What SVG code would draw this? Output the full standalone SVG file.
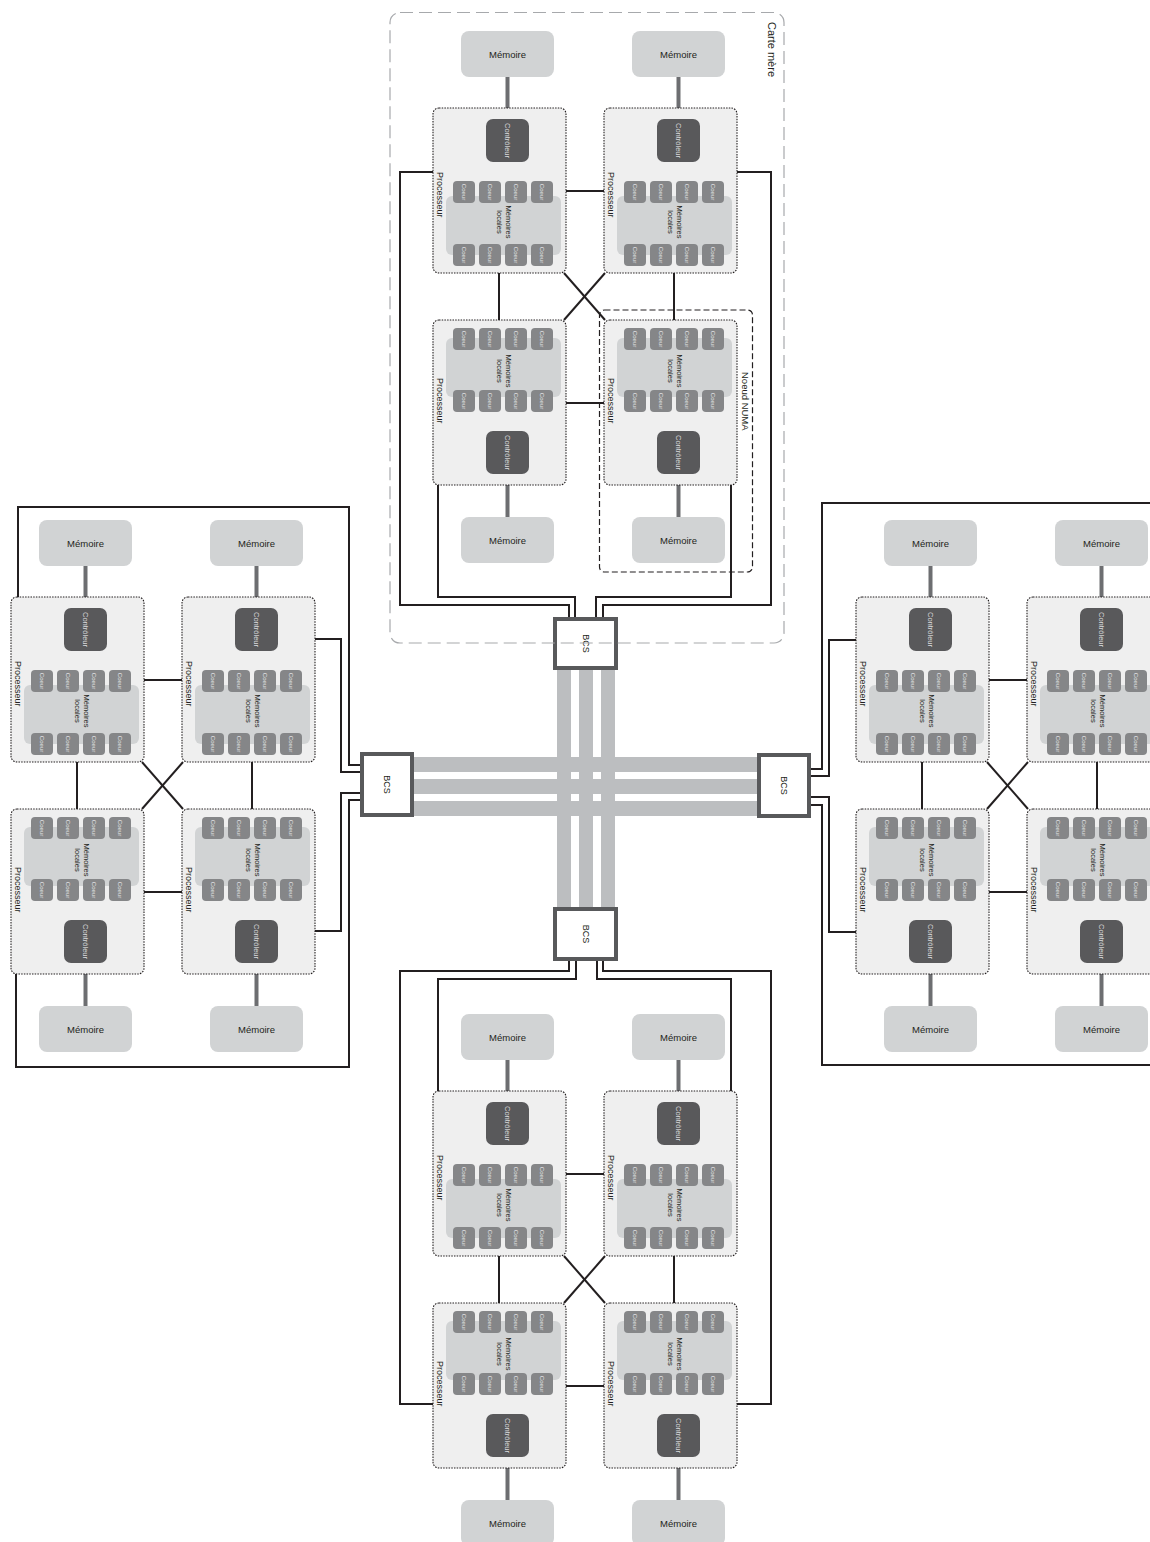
<svg xmlns="http://www.w3.org/2000/svg" width="1150" height="1542" viewBox="0 0 1150 1542">
<style>
text{font-family:"Liberation Sans",Arial,sans-serif;}
.pr{fill:#efefef;stroke:#231f20;stroke-width:1.1;stroke-dasharray:1.5 1.2;}
.ct{fill:#59595b;}
.lm{fill:#d1d3d4;}
.co{fill:#858688;}
.me{fill:#d1d3d4;}
.ml{stroke:#6d6e71;stroke-width:4;fill:none;}
.w{fill:none;stroke:#231f20;stroke-width:2;}
.bus{fill:#bcbec0;}
.bcs{fill:#fff;stroke:#58595b;stroke-width:4;}
.tct{font-size:7.5px;fill:#d9dadb;text-anchor:middle;dominant-baseline:central;}
.tco{font-size:6px;fill:#e3e4e5;text-anchor:middle;dominant-baseline:central;}
.tlm{font-size:7.5px;fill:#231f20;text-anchor:middle;dominant-baseline:central;}
.tpr{font-size:9px;fill:#231f20;}
.tme{font-size:9.5px;fill:#231f20;text-anchor:middle;dominant-baseline:central;}
.tb{font-size:9px;fill:#231f20;text-anchor:middle;dominant-baseline:central;}
</style>

<!-- interconnect bus -->
<g id="bus">
<rect class="bus" x="557" y="668" width="14" height="241"/>
<rect class="bus" x="579" y="668" width="14" height="241"/>
<rect class="bus" x="601" y="668" width="14" height="241"/>
<rect class="bus" x="412" y="757" width="347" height="15"/>
<rect class="bus" x="412" y="779" width="347" height="15"/>
<rect class="bus" x="412" y="801" width="347" height="15"/>
</g>

<g id="connectors">
<!-- top board -->
<polyline class="w" points="433,172 400,172 400,605 569,605 569,619"/>
<polyline class="w" points="438,485 438,597 575,597 575,619"/>
<polyline class="w" points="737,172 771,172 771,605 603,605 603,619"/>
<polyline class="w" points="731,485 731,597 596,597 596,619"/>
<line class="w" x1="566" y1="191" x2="604" y2="191"/>
<line class="w" x1="566" y1="403" x2="604" y2="403"/>
<line class="w" x1="499" y1="273" x2="499" y2="320"/>
<line class="w" x1="674" y1="273" x2="674" y2="320"/>
<line class="w" x1="564" y1="273" x2="605" y2="320"/>
<line class="w" x1="605" y1="273" x2="564" y2="320"/>
<!-- bottom board -->
<polyline class="w" points="569,959 569,971 400,971 400,1404 433,1404"/>
<polyline class="w" points="576,959 576,979 438,979 438,1091"/>
<polyline class="w" points="597,959 597,979 731,979 731,1091"/>
<polyline class="w" points="603,959 603,971 771,971 771,1404 737,1404"/>
<line class="w" x1="566" y1="1174" x2="604" y2="1174"/>
<line class="w" x1="566" y1="1386" x2="604" y2="1386"/>
<line class="w" x1="499" y1="1256" x2="499" y2="1303"/>
<line class="w" x1="674" y1="1256" x2="674" y2="1303"/>
<line class="w" x1="564" y1="1256" x2="605" y2="1303"/>
<line class="w" x1="605" y1="1256" x2="564" y2="1303"/>
<!-- left board -->
<polyline class="w" points="18,597 18,507 349,507 349,765 362,765"/>
<polyline class="w" points="315,639 341,639 341,772 362,772"/>
<polyline class="w" points="315,931 341,931 341,793 362,793"/>
<polyline class="w" points="16,974 16,1067 349,1067 349,800 362,800"/>
<line class="w" x1="144" y1="680" x2="182" y2="680"/>
<line class="w" x1="144" y1="892" x2="182" y2="892"/>
<line class="w" x1="77" y1="762" x2="77" y2="809"/>
<line class="w" x1="252" y1="762" x2="252" y2="809"/>
<line class="w" x1="142" y1="762" x2="183" y2="809"/>
<line class="w" x1="183" y1="762" x2="142" y2="809"/>
<!-- right board -->
<polyline class="w" points="1160,503 822,503 822,769 809,769"/>
<polyline class="w" points="856,640 829,640 829,776 809,776"/>
<polyline class="w" points="856,932 829,932 829,797 809,797"/>
<polyline class="w" points="809,805 822,805 822,1065 1160,1065"/>
<line class="w" x1="989" y1="680" x2="1027" y2="680"/>
<line class="w" x1="989" y1="892" x2="1027" y2="892"/>
<line class="w" x1="922" y1="762" x2="922" y2="809"/>
<line class="w" x1="1097" y1="762" x2="1097" y2="809"/>
<line class="w" x1="987" y1="762" x2="1028" y2="809"/>
<line class="w" x1="1028" y1="762" x2="987" y2="809"/>
<!-- memory links -->
<line class="ml" x1="507.5" y1="77" x2="507.5" y2="120"/>
<line class="ml" x1="678.5" y1="77" x2="678.5" y2="120"/>
<line class="ml" x1="507.5" y1="473" x2="507.5" y2="517"/>
<line class="ml" x1="678.5" y1="473" x2="678.5" y2="517"/>
<line class="ml" x1="507.5" y1="1060" x2="507.5" y2="1103"/>
<line class="ml" x1="678.5" y1="1060" x2="678.5" y2="1103"/>
<line class="ml" x1="507.5" y1="1456" x2="507.5" y2="1500"/>
<line class="ml" x1="678.5" y1="1456" x2="678.5" y2="1500"/>
<line class="ml" x1="85.5" y1="566" x2="85.5" y2="609"/>
<line class="ml" x1="256.5" y1="566" x2="256.5" y2="609"/>
<line class="ml" x1="85.5" y1="962" x2="85.5" y2="1006"/>
<line class="ml" x1="256.5" y1="962" x2="256.5" y2="1006"/>
<line class="ml" x1="930.5" y1="566" x2="930.5" y2="609"/>
<line class="ml" x1="1101.5" y1="566" x2="1101.5" y2="609"/>
<line class="ml" x1="930.5" y1="962" x2="930.5" y2="1006"/>
<line class="ml" x1="1101.5" y1="962" x2="1101.5" y2="1006"/>
</g>

<!-- memories -->
<g id="mem-a1"><rect class="me" x="461" y="31" width="93" height="46" rx="8"/><text class="tme" x="507.5" y="54">Mémoire</text></g>
<g id="mem-a2"><rect class="me" x="632" y="31" width="93" height="46" rx="8"/><text class="tme" x="678.5" y="54">Mémoire</text></g>
<g id="mem-a3"><rect class="me" x="461" y="517" width="93" height="46" rx="8"/><text class="tme" x="507.5" y="540">Mémoire</text></g>
<g id="mem-a4"><rect class="me" x="632" y="517" width="93" height="46" rx="8"/><text class="tme" x="678.5" y="540">Mémoire</text></g>
<g id="mem-d1"><rect class="me" x="461" y="1014" width="93" height="46" rx="8"/><text class="tme" x="507.5" y="1037">Mémoire</text></g>
<g id="mem-d2"><rect class="me" x="632" y="1014" width="93" height="46" rx="8"/><text class="tme" x="678.5" y="1037">Mémoire</text></g>
<g id="mem-d3"><rect class="me" x="461" y="1500" width="93" height="46" rx="8"/><text class="tme" x="507.5" y="1523">Mémoire</text></g>
<g id="mem-d4"><rect class="me" x="632" y="1500" width="93" height="46" rx="8"/><text class="tme" x="678.5" y="1523">Mémoire</text></g>
<g id="mem-l1"><rect class="me" x="39" y="520" width="93" height="46" rx="8"/><text class="tme" x="85.5" y="543">Mémoire</text></g>
<g id="mem-l2"><rect class="me" x="210" y="520" width="93" height="46" rx="8"/><text class="tme" x="256.5" y="543">Mémoire</text></g>
<g id="mem-l3"><rect class="me" x="39" y="1006" width="93" height="46" rx="8"/><text class="tme" x="85.5" y="1029">Mémoire</text></g>
<g id="mem-l4"><rect class="me" x="210" y="1006" width="93" height="46" rx="8"/><text class="tme" x="256.5" y="1029">Mémoire</text></g>
<g id="mem-r1"><rect class="me" x="884" y="520" width="93" height="46" rx="8"/><text class="tme" x="930.5" y="543">Mémoire</text></g>
<g id="mem-r2"><rect class="me" x="1055" y="520" width="93" height="46" rx="8"/><text class="tme" x="1101.5" y="543">Mémoire</text></g>
<g id="mem-r3"><rect class="me" x="884" y="1006" width="93" height="46" rx="8"/><text class="tme" x="930.5" y="1029">Mémoire</text></g>
<g id="mem-r4"><rect class="me" x="1055" y="1006" width="93" height="46" rx="8"/><text class="tme" x="1101.5" y="1029">Mémoire</text></g>

<!-- processors: top-facing (controller above) -->
<g id="proc-a1" transform="translate(433,108)">
<rect class="pr" width="133" height="165" rx="6"/>
<rect class="ct" x="53" y="11" width="43" height="43" rx="7"/>
<text class="tct" transform="translate(74.5,32.5) rotate(90)">Contrôleur</text>
<rect class="lm" x="13" y="88" width="115" height="59" rx="6"/>
<rect class="co" x="20" y="73" width="22" height="22" rx="4"/><rect class="co" x="46" y="73" width="22" height="22" rx="4"/><rect class="co" x="72" y="73" width="22" height="22" rx="4"/><rect class="co" x="98" y="73" width="22" height="22" rx="4"/>
<rect class="co" x="20" y="136" width="22" height="22" rx="4"/><rect class="co" x="46" y="136" width="22" height="22" rx="4"/><rect class="co" x="72" y="136" width="22" height="22" rx="4"/><rect class="co" x="98" y="136" width="22" height="22" rx="4"/>
<text class="tco" transform="translate(31,84) rotate(90)">Coeur</text><text class="tco" transform="translate(57,84) rotate(90)">Coeur</text><text class="tco" transform="translate(83,84) rotate(90)">Coeur</text><text class="tco" transform="translate(109,84) rotate(90)">Coeur</text>
<text class="tco" transform="translate(31,147) rotate(90)">Coeur</text><text class="tco" transform="translate(57,147) rotate(90)">Coeur</text><text class="tco" transform="translate(83,147) rotate(90)">Coeur</text><text class="tco" transform="translate(109,147) rotate(90)">Coeur</text>
<text class="tlm" transform="translate(75.5,114) rotate(90)">Mémoires</text><text class="tlm" transform="translate(66.5,114) rotate(90)">locales</text>
<text class="tpr" transform="translate(4,64) rotate(90)">Processeur</text>
</g>
<g id="proc-a2" transform="translate(604,108)">
<rect class="pr" width="133" height="165" rx="6"/>
<rect class="ct" x="53" y="11" width="43" height="43" rx="7"/>
<text class="tct" transform="translate(74.5,32.5) rotate(90)">Contrôleur</text>
<rect class="lm" x="13" y="88" width="115" height="59" rx="6"/>
<rect class="co" x="20" y="73" width="22" height="22" rx="4"/><rect class="co" x="46" y="73" width="22" height="22" rx="4"/><rect class="co" x="72" y="73" width="22" height="22" rx="4"/><rect class="co" x="98" y="73" width="22" height="22" rx="4"/>
<rect class="co" x="20" y="136" width="22" height="22" rx="4"/><rect class="co" x="46" y="136" width="22" height="22" rx="4"/><rect class="co" x="72" y="136" width="22" height="22" rx="4"/><rect class="co" x="98" y="136" width="22" height="22" rx="4"/>
<text class="tco" transform="translate(31,84) rotate(90)">Coeur</text><text class="tco" transform="translate(57,84) rotate(90)">Coeur</text><text class="tco" transform="translate(83,84) rotate(90)">Coeur</text><text class="tco" transform="translate(109,84) rotate(90)">Coeur</text>
<text class="tco" transform="translate(31,147) rotate(90)">Coeur</text><text class="tco" transform="translate(57,147) rotate(90)">Coeur</text><text class="tco" transform="translate(83,147) rotate(90)">Coeur</text><text class="tco" transform="translate(109,147) rotate(90)">Coeur</text>
<text class="tlm" transform="translate(75.5,114) rotate(90)">Mémoires</text><text class="tlm" transform="translate(66.5,114) rotate(90)">locales</text>
<text class="tpr" transform="translate(4,64) rotate(90)">Processeur</text>
</g>
<g id="proc-d1" transform="translate(433,1091)">
<rect class="pr" width="133" height="165" rx="6"/>
<rect class="ct" x="53" y="11" width="43" height="43" rx="7"/>
<text class="tct" transform="translate(74.5,32.5) rotate(90)">Contrôleur</text>
<rect class="lm" x="13" y="88" width="115" height="59" rx="6"/>
<rect class="co" x="20" y="73" width="22" height="22" rx="4"/><rect class="co" x="46" y="73" width="22" height="22" rx="4"/><rect class="co" x="72" y="73" width="22" height="22" rx="4"/><rect class="co" x="98" y="73" width="22" height="22" rx="4"/>
<rect class="co" x="20" y="136" width="22" height="22" rx="4"/><rect class="co" x="46" y="136" width="22" height="22" rx="4"/><rect class="co" x="72" y="136" width="22" height="22" rx="4"/><rect class="co" x="98" y="136" width="22" height="22" rx="4"/>
<text class="tco" transform="translate(31,84) rotate(90)">Coeur</text><text class="tco" transform="translate(57,84) rotate(90)">Coeur</text><text class="tco" transform="translate(83,84) rotate(90)">Coeur</text><text class="tco" transform="translate(109,84) rotate(90)">Coeur</text>
<text class="tco" transform="translate(31,147) rotate(90)">Coeur</text><text class="tco" transform="translate(57,147) rotate(90)">Coeur</text><text class="tco" transform="translate(83,147) rotate(90)">Coeur</text><text class="tco" transform="translate(109,147) rotate(90)">Coeur</text>
<text class="tlm" transform="translate(75.5,114) rotate(90)">Mémoires</text><text class="tlm" transform="translate(66.5,114) rotate(90)">locales</text>
<text class="tpr" transform="translate(4,64) rotate(90)">Processeur</text>
</g>
<g id="proc-d2" transform="translate(604,1091)">
<rect class="pr" width="133" height="165" rx="6"/>
<rect class="ct" x="53" y="11" width="43" height="43" rx="7"/>
<text class="tct" transform="translate(74.5,32.5) rotate(90)">Contrôleur</text>
<rect class="lm" x="13" y="88" width="115" height="59" rx="6"/>
<rect class="co" x="20" y="73" width="22" height="22" rx="4"/><rect class="co" x="46" y="73" width="22" height="22" rx="4"/><rect class="co" x="72" y="73" width="22" height="22" rx="4"/><rect class="co" x="98" y="73" width="22" height="22" rx="4"/>
<rect class="co" x="20" y="136" width="22" height="22" rx="4"/><rect class="co" x="46" y="136" width="22" height="22" rx="4"/><rect class="co" x="72" y="136" width="22" height="22" rx="4"/><rect class="co" x="98" y="136" width="22" height="22" rx="4"/>
<text class="tco" transform="translate(31,84) rotate(90)">Coeur</text><text class="tco" transform="translate(57,84) rotate(90)">Coeur</text><text class="tco" transform="translate(83,84) rotate(90)">Coeur</text><text class="tco" transform="translate(109,84) rotate(90)">Coeur</text>
<text class="tco" transform="translate(31,147) rotate(90)">Coeur</text><text class="tco" transform="translate(57,147) rotate(90)">Coeur</text><text class="tco" transform="translate(83,147) rotate(90)">Coeur</text><text class="tco" transform="translate(109,147) rotate(90)">Coeur</text>
<text class="tlm" transform="translate(75.5,114) rotate(90)">Mémoires</text><text class="tlm" transform="translate(66.5,114) rotate(90)">locales</text>
<text class="tpr" transform="translate(4,64) rotate(90)">Processeur</text>
</g>
<g id="proc-l1" transform="translate(11,597)">
<rect class="pr" width="133" height="165" rx="6"/>
<rect class="ct" x="53" y="11" width="43" height="43" rx="7"/>
<text class="tct" transform="translate(74.5,32.5) rotate(90)">Contrôleur</text>
<rect class="lm" x="13" y="88" width="115" height="59" rx="6"/>
<rect class="co" x="20" y="73" width="22" height="22" rx="4"/><rect class="co" x="46" y="73" width="22" height="22" rx="4"/><rect class="co" x="72" y="73" width="22" height="22" rx="4"/><rect class="co" x="98" y="73" width="22" height="22" rx="4"/>
<rect class="co" x="20" y="136" width="22" height="22" rx="4"/><rect class="co" x="46" y="136" width="22" height="22" rx="4"/><rect class="co" x="72" y="136" width="22" height="22" rx="4"/><rect class="co" x="98" y="136" width="22" height="22" rx="4"/>
<text class="tco" transform="translate(31,84) rotate(90)">Coeur</text><text class="tco" transform="translate(57,84) rotate(90)">Coeur</text><text class="tco" transform="translate(83,84) rotate(90)">Coeur</text><text class="tco" transform="translate(109,84) rotate(90)">Coeur</text>
<text class="tco" transform="translate(31,147) rotate(90)">Coeur</text><text class="tco" transform="translate(57,147) rotate(90)">Coeur</text><text class="tco" transform="translate(83,147) rotate(90)">Coeur</text><text class="tco" transform="translate(109,147) rotate(90)">Coeur</text>
<text class="tlm" transform="translate(75.5,114) rotate(90)">Mémoires</text><text class="tlm" transform="translate(66.5,114) rotate(90)">locales</text>
<text class="tpr" transform="translate(4,64) rotate(90)">Processeur</text>
</g>
<g id="proc-l2" transform="translate(182,597)">
<rect class="pr" width="133" height="165" rx="6"/>
<rect class="ct" x="53" y="11" width="43" height="43" rx="7"/>
<text class="tct" transform="translate(74.5,32.5) rotate(90)">Contrôleur</text>
<rect class="lm" x="13" y="88" width="115" height="59" rx="6"/>
<rect class="co" x="20" y="73" width="22" height="22" rx="4"/><rect class="co" x="46" y="73" width="22" height="22" rx="4"/><rect class="co" x="72" y="73" width="22" height="22" rx="4"/><rect class="co" x="98" y="73" width="22" height="22" rx="4"/>
<rect class="co" x="20" y="136" width="22" height="22" rx="4"/><rect class="co" x="46" y="136" width="22" height="22" rx="4"/><rect class="co" x="72" y="136" width="22" height="22" rx="4"/><rect class="co" x="98" y="136" width="22" height="22" rx="4"/>
<text class="tco" transform="translate(31,84) rotate(90)">Coeur</text><text class="tco" transform="translate(57,84) rotate(90)">Coeur</text><text class="tco" transform="translate(83,84) rotate(90)">Coeur</text><text class="tco" transform="translate(109,84) rotate(90)">Coeur</text>
<text class="tco" transform="translate(31,147) rotate(90)">Coeur</text><text class="tco" transform="translate(57,147) rotate(90)">Coeur</text><text class="tco" transform="translate(83,147) rotate(90)">Coeur</text><text class="tco" transform="translate(109,147) rotate(90)">Coeur</text>
<text class="tlm" transform="translate(75.5,114) rotate(90)">Mémoires</text><text class="tlm" transform="translate(66.5,114) rotate(90)">locales</text>
<text class="tpr" transform="translate(4,64) rotate(90)">Processeur</text>
</g>
<g id="proc-r1" transform="translate(856,597)">
<rect class="pr" width="133" height="165" rx="6"/>
<rect class="ct" x="53" y="11" width="43" height="43" rx="7"/>
<text class="tct" transform="translate(74.5,32.5) rotate(90)">Contrôleur</text>
<rect class="lm" x="13" y="88" width="115" height="59" rx="6"/>
<rect class="co" x="20" y="73" width="22" height="22" rx="4"/><rect class="co" x="46" y="73" width="22" height="22" rx="4"/><rect class="co" x="72" y="73" width="22" height="22" rx="4"/><rect class="co" x="98" y="73" width="22" height="22" rx="4"/>
<rect class="co" x="20" y="136" width="22" height="22" rx="4"/><rect class="co" x="46" y="136" width="22" height="22" rx="4"/><rect class="co" x="72" y="136" width="22" height="22" rx="4"/><rect class="co" x="98" y="136" width="22" height="22" rx="4"/>
<text class="tco" transform="translate(31,84) rotate(90)">Coeur</text><text class="tco" transform="translate(57,84) rotate(90)">Coeur</text><text class="tco" transform="translate(83,84) rotate(90)">Coeur</text><text class="tco" transform="translate(109,84) rotate(90)">Coeur</text>
<text class="tco" transform="translate(31,147) rotate(90)">Coeur</text><text class="tco" transform="translate(57,147) rotate(90)">Coeur</text><text class="tco" transform="translate(83,147) rotate(90)">Coeur</text><text class="tco" transform="translate(109,147) rotate(90)">Coeur</text>
<text class="tlm" transform="translate(75.5,114) rotate(90)">Mémoires</text><text class="tlm" transform="translate(66.5,114) rotate(90)">locales</text>
<text class="tpr" transform="translate(4,64) rotate(90)">Processeur</text>
</g>
<g id="proc-r2" transform="translate(1027,597)">
<rect class="pr" width="133" height="165" rx="6"/>
<rect class="ct" x="53" y="11" width="43" height="43" rx="7"/>
<text class="tct" transform="translate(74.5,32.5) rotate(90)">Contrôleur</text>
<rect class="lm" x="13" y="88" width="115" height="59" rx="6"/>
<rect class="co" x="20" y="73" width="22" height="22" rx="4"/><rect class="co" x="46" y="73" width="22" height="22" rx="4"/><rect class="co" x="72" y="73" width="22" height="22" rx="4"/><rect class="co" x="98" y="73" width="22" height="22" rx="4"/>
<rect class="co" x="20" y="136" width="22" height="22" rx="4"/><rect class="co" x="46" y="136" width="22" height="22" rx="4"/><rect class="co" x="72" y="136" width="22" height="22" rx="4"/><rect class="co" x="98" y="136" width="22" height="22" rx="4"/>
<text class="tco" transform="translate(31,84) rotate(90)">Coeur</text><text class="tco" transform="translate(57,84) rotate(90)">Coeur</text><text class="tco" transform="translate(83,84) rotate(90)">Coeur</text><text class="tco" transform="translate(109,84) rotate(90)">Coeur</text>
<text class="tco" transform="translate(31,147) rotate(90)">Coeur</text><text class="tco" transform="translate(57,147) rotate(90)">Coeur</text><text class="tco" transform="translate(83,147) rotate(90)">Coeur</text><text class="tco" transform="translate(109,147) rotate(90)">Coeur</text>
<text class="tlm" transform="translate(75.5,114) rotate(90)">Mémoires</text><text class="tlm" transform="translate(66.5,114) rotate(90)">locales</text>
<text class="tpr" transform="translate(4,64) rotate(90)">Processeur</text>
</g>

<!-- processors: bottom-facing (controller below) -->
<g id="proc-a3" transform="translate(433,320)">
<rect class="pr" width="133" height="165" rx="6"/>
<rect class="lm" x="13" y="18" width="115" height="59" rx="6"/>
<rect class="co" x="20" y="8" width="22" height="22" rx="4"/><rect class="co" x="46" y="8" width="22" height="22" rx="4"/><rect class="co" x="72" y="8" width="22" height="22" rx="4"/><rect class="co" x="98" y="8" width="22" height="22" rx="4"/>
<rect class="co" x="20" y="70" width="22" height="22" rx="4"/><rect class="co" x="46" y="70" width="22" height="22" rx="4"/><rect class="co" x="72" y="70" width="22" height="22" rx="4"/><rect class="co" x="98" y="70" width="22" height="22" rx="4"/>
<text class="tco" transform="translate(31,19) rotate(90)">Coeur</text><text class="tco" transform="translate(57,19) rotate(90)">Coeur</text><text class="tco" transform="translate(83,19) rotate(90)">Coeur</text><text class="tco" transform="translate(109,19) rotate(90)">Coeur</text>
<text class="tco" transform="translate(31,81) rotate(90)">Coeur</text><text class="tco" transform="translate(57,81) rotate(90)">Coeur</text><text class="tco" transform="translate(83,81) rotate(90)">Coeur</text><text class="tco" transform="translate(109,81) rotate(90)">Coeur</text>
<text class="tlm" transform="translate(75.5,51) rotate(90)">Mémoires</text><text class="tlm" transform="translate(66.5,51) rotate(90)">locales</text>
<rect class="ct" x="53" y="111" width="43" height="43" rx="7"/>
<text class="tct" transform="translate(74.5,132.5) rotate(90)">Contrôleur</text>
<text class="tpr" transform="translate(4,58) rotate(90)">Processeur</text>
</g>
<g id="proc-a4" transform="translate(604,320)">
<rect class="pr" width="133" height="165" rx="6"/>
<rect class="lm" x="13" y="18" width="115" height="59" rx="6"/>
<rect class="co" x="20" y="8" width="22" height="22" rx="4"/><rect class="co" x="46" y="8" width="22" height="22" rx="4"/><rect class="co" x="72" y="8" width="22" height="22" rx="4"/><rect class="co" x="98" y="8" width="22" height="22" rx="4"/>
<rect class="co" x="20" y="70" width="22" height="22" rx="4"/><rect class="co" x="46" y="70" width="22" height="22" rx="4"/><rect class="co" x="72" y="70" width="22" height="22" rx="4"/><rect class="co" x="98" y="70" width="22" height="22" rx="4"/>
<text class="tco" transform="translate(31,19) rotate(90)">Coeur</text><text class="tco" transform="translate(57,19) rotate(90)">Coeur</text><text class="tco" transform="translate(83,19) rotate(90)">Coeur</text><text class="tco" transform="translate(109,19) rotate(90)">Coeur</text>
<text class="tco" transform="translate(31,81) rotate(90)">Coeur</text><text class="tco" transform="translate(57,81) rotate(90)">Coeur</text><text class="tco" transform="translate(83,81) rotate(90)">Coeur</text><text class="tco" transform="translate(109,81) rotate(90)">Coeur</text>
<text class="tlm" transform="translate(75.5,51) rotate(90)">Mémoires</text><text class="tlm" transform="translate(66.5,51) rotate(90)">locales</text>
<rect class="ct" x="53" y="111" width="43" height="43" rx="7"/>
<text class="tct" transform="translate(74.5,132.5) rotate(90)">Contrôleur</text>
<text class="tpr" transform="translate(4,58) rotate(90)">Processeur</text>
</g>
<g id="proc-d3" transform="translate(433,1303)">
<rect class="pr" width="133" height="165" rx="6"/>
<rect class="lm" x="13" y="18" width="115" height="59" rx="6"/>
<rect class="co" x="20" y="8" width="22" height="22" rx="4"/><rect class="co" x="46" y="8" width="22" height="22" rx="4"/><rect class="co" x="72" y="8" width="22" height="22" rx="4"/><rect class="co" x="98" y="8" width="22" height="22" rx="4"/>
<rect class="co" x="20" y="70" width="22" height="22" rx="4"/><rect class="co" x="46" y="70" width="22" height="22" rx="4"/><rect class="co" x="72" y="70" width="22" height="22" rx="4"/><rect class="co" x="98" y="70" width="22" height="22" rx="4"/>
<text class="tco" transform="translate(31,19) rotate(90)">Coeur</text><text class="tco" transform="translate(57,19) rotate(90)">Coeur</text><text class="tco" transform="translate(83,19) rotate(90)">Coeur</text><text class="tco" transform="translate(109,19) rotate(90)">Coeur</text>
<text class="tco" transform="translate(31,81) rotate(90)">Coeur</text><text class="tco" transform="translate(57,81) rotate(90)">Coeur</text><text class="tco" transform="translate(83,81) rotate(90)">Coeur</text><text class="tco" transform="translate(109,81) rotate(90)">Coeur</text>
<text class="tlm" transform="translate(75.5,51) rotate(90)">Mémoires</text><text class="tlm" transform="translate(66.5,51) rotate(90)">locales</text>
<rect class="ct" x="53" y="111" width="43" height="43" rx="7"/>
<text class="tct" transform="translate(74.5,132.5) rotate(90)">Contrôleur</text>
<text class="tpr" transform="translate(4,58) rotate(90)">Processeur</text>
</g>
<g id="proc-d4" transform="translate(604,1303)">
<rect class="pr" width="133" height="165" rx="6"/>
<rect class="lm" x="13" y="18" width="115" height="59" rx="6"/>
<rect class="co" x="20" y="8" width="22" height="22" rx="4"/><rect class="co" x="46" y="8" width="22" height="22" rx="4"/><rect class="co" x="72" y="8" width="22" height="22" rx="4"/><rect class="co" x="98" y="8" width="22" height="22" rx="4"/>
<rect class="co" x="20" y="70" width="22" height="22" rx="4"/><rect class="co" x="46" y="70" width="22" height="22" rx="4"/><rect class="co" x="72" y="70" width="22" height="22" rx="4"/><rect class="co" x="98" y="70" width="22" height="22" rx="4"/>
<text class="tco" transform="translate(31,19) rotate(90)">Coeur</text><text class="tco" transform="translate(57,19) rotate(90)">Coeur</text><text class="tco" transform="translate(83,19) rotate(90)">Coeur</text><text class="tco" transform="translate(109,19) rotate(90)">Coeur</text>
<text class="tco" transform="translate(31,81) rotate(90)">Coeur</text><text class="tco" transform="translate(57,81) rotate(90)">Coeur</text><text class="tco" transform="translate(83,81) rotate(90)">Coeur</text><text class="tco" transform="translate(109,81) rotate(90)">Coeur</text>
<text class="tlm" transform="translate(75.5,51) rotate(90)">Mémoires</text><text class="tlm" transform="translate(66.5,51) rotate(90)">locales</text>
<rect class="ct" x="53" y="111" width="43" height="43" rx="7"/>
<text class="tct" transform="translate(74.5,132.5) rotate(90)">Contrôleur</text>
<text class="tpr" transform="translate(4,58) rotate(90)">Processeur</text>
</g>
<g id="proc-l3" transform="translate(11,809)">
<rect class="pr" width="133" height="165" rx="6"/>
<rect class="lm" x="13" y="18" width="115" height="59" rx="6"/>
<rect class="co" x="20" y="8" width="22" height="22" rx="4"/><rect class="co" x="46" y="8" width="22" height="22" rx="4"/><rect class="co" x="72" y="8" width="22" height="22" rx="4"/><rect class="co" x="98" y="8" width="22" height="22" rx="4"/>
<rect class="co" x="20" y="70" width="22" height="22" rx="4"/><rect class="co" x="46" y="70" width="22" height="22" rx="4"/><rect class="co" x="72" y="70" width="22" height="22" rx="4"/><rect class="co" x="98" y="70" width="22" height="22" rx="4"/>
<text class="tco" transform="translate(31,19) rotate(90)">Coeur</text><text class="tco" transform="translate(57,19) rotate(90)">Coeur</text><text class="tco" transform="translate(83,19) rotate(90)">Coeur</text><text class="tco" transform="translate(109,19) rotate(90)">Coeur</text>
<text class="tco" transform="translate(31,81) rotate(90)">Coeur</text><text class="tco" transform="translate(57,81) rotate(90)">Coeur</text><text class="tco" transform="translate(83,81) rotate(90)">Coeur</text><text class="tco" transform="translate(109,81) rotate(90)">Coeur</text>
<text class="tlm" transform="translate(75.5,51) rotate(90)">Mémoires</text><text class="tlm" transform="translate(66.5,51) rotate(90)">locales</text>
<rect class="ct" x="53" y="111" width="43" height="43" rx="7"/>
<text class="tct" transform="translate(74.5,132.5) rotate(90)">Contrôleur</text>
<text class="tpr" transform="translate(4,58) rotate(90)">Processeur</text>
</g>
<g id="proc-l4" transform="translate(182,809)">
<rect class="pr" width="133" height="165" rx="6"/>
<rect class="lm" x="13" y="18" width="115" height="59" rx="6"/>
<rect class="co" x="20" y="8" width="22" height="22" rx="4"/><rect class="co" x="46" y="8" width="22" height="22" rx="4"/><rect class="co" x="72" y="8" width="22" height="22" rx="4"/><rect class="co" x="98" y="8" width="22" height="22" rx="4"/>
<rect class="co" x="20" y="70" width="22" height="22" rx="4"/><rect class="co" x="46" y="70" width="22" height="22" rx="4"/><rect class="co" x="72" y="70" width="22" height="22" rx="4"/><rect class="co" x="98" y="70" width="22" height="22" rx="4"/>
<text class="tco" transform="translate(31,19) rotate(90)">Coeur</text><text class="tco" transform="translate(57,19) rotate(90)">Coeur</text><text class="tco" transform="translate(83,19) rotate(90)">Coeur</text><text class="tco" transform="translate(109,19) rotate(90)">Coeur</text>
<text class="tco" transform="translate(31,81) rotate(90)">Coeur</text><text class="tco" transform="translate(57,81) rotate(90)">Coeur</text><text class="tco" transform="translate(83,81) rotate(90)">Coeur</text><text class="tco" transform="translate(109,81) rotate(90)">Coeur</text>
<text class="tlm" transform="translate(75.5,51) rotate(90)">Mémoires</text><text class="tlm" transform="translate(66.5,51) rotate(90)">locales</text>
<rect class="ct" x="53" y="111" width="43" height="43" rx="7"/>
<text class="tct" transform="translate(74.5,132.5) rotate(90)">Contrôleur</text>
<text class="tpr" transform="translate(4,58) rotate(90)">Processeur</text>
</g>
<g id="proc-r3" transform="translate(856,809)">
<rect class="pr" width="133" height="165" rx="6"/>
<rect class="lm" x="13" y="18" width="115" height="59" rx="6"/>
<rect class="co" x="20" y="8" width="22" height="22" rx="4"/><rect class="co" x="46" y="8" width="22" height="22" rx="4"/><rect class="co" x="72" y="8" width="22" height="22" rx="4"/><rect class="co" x="98" y="8" width="22" height="22" rx="4"/>
<rect class="co" x="20" y="70" width="22" height="22" rx="4"/><rect class="co" x="46" y="70" width="22" height="22" rx="4"/><rect class="co" x="72" y="70" width="22" height="22" rx="4"/><rect class="co" x="98" y="70" width="22" height="22" rx="4"/>
<text class="tco" transform="translate(31,19) rotate(90)">Coeur</text><text class="tco" transform="translate(57,19) rotate(90)">Coeur</text><text class="tco" transform="translate(83,19) rotate(90)">Coeur</text><text class="tco" transform="translate(109,19) rotate(90)">Coeur</text>
<text class="tco" transform="translate(31,81) rotate(90)">Coeur</text><text class="tco" transform="translate(57,81) rotate(90)">Coeur</text><text class="tco" transform="translate(83,81) rotate(90)">Coeur</text><text class="tco" transform="translate(109,81) rotate(90)">Coeur</text>
<text class="tlm" transform="translate(75.5,51) rotate(90)">Mémoires</text><text class="tlm" transform="translate(66.5,51) rotate(90)">locales</text>
<rect class="ct" x="53" y="111" width="43" height="43" rx="7"/>
<text class="tct" transform="translate(74.5,132.5) rotate(90)">Contrôleur</text>
<text class="tpr" transform="translate(4,58) rotate(90)">Processeur</text>
</g>
<g id="proc-r4" transform="translate(1027,809)">
<rect class="pr" width="133" height="165" rx="6"/>
<rect class="lm" x="13" y="18" width="115" height="59" rx="6"/>
<rect class="co" x="20" y="8" width="22" height="22" rx="4"/><rect class="co" x="46" y="8" width="22" height="22" rx="4"/><rect class="co" x="72" y="8" width="22" height="22" rx="4"/><rect class="co" x="98" y="8" width="22" height="22" rx="4"/>
<rect class="co" x="20" y="70" width="22" height="22" rx="4"/><rect class="co" x="46" y="70" width="22" height="22" rx="4"/><rect class="co" x="72" y="70" width="22" height="22" rx="4"/><rect class="co" x="98" y="70" width="22" height="22" rx="4"/>
<text class="tco" transform="translate(31,19) rotate(90)">Coeur</text><text class="tco" transform="translate(57,19) rotate(90)">Coeur</text><text class="tco" transform="translate(83,19) rotate(90)">Coeur</text><text class="tco" transform="translate(109,19) rotate(90)">Coeur</text>
<text class="tco" transform="translate(31,81) rotate(90)">Coeur</text><text class="tco" transform="translate(57,81) rotate(90)">Coeur</text><text class="tco" transform="translate(83,81) rotate(90)">Coeur</text><text class="tco" transform="translate(109,81) rotate(90)">Coeur</text>
<text class="tlm" transform="translate(75.5,51) rotate(90)">Mémoires</text><text class="tlm" transform="translate(66.5,51) rotate(90)">locales</text>
<rect class="ct" x="53" y="111" width="43" height="43" rx="7"/>
<text class="tct" transform="translate(74.5,132.5) rotate(90)">Contrôleur</text>
<text class="tpr" transform="translate(4,58) rotate(90)">Processeur</text>
</g>

<!-- BCS switches -->
<g id="bcs-top"><rect class="bcs" x="555" y="619" width="61" height="49"/><text class="tb" transform="translate(585.5,643.5) rotate(90)">BCS</text></g>
<g id="bcs-bottom"><rect class="bcs" x="555" y="909" width="61" height="50"/><text class="tb" transform="translate(585.5,934) rotate(90)">BCS</text></g>
<g id="bcs-left"><rect class="bcs" x="362" y="754" width="50" height="61"/><text class="tb" transform="translate(387,784.5) rotate(90)">BCS</text></g>
<g id="bcs-right"><rect class="bcs" x="759" y="755" width="50" height="61"/><text class="tb" transform="translate(784,785.5) rotate(90)">BCS</text></g>

<!-- NUMA node and motherboard outlines -->
<g id="numa">
<rect x="599.5" y="310" width="153" height="262" rx="5" fill="none" stroke="#231f20" stroke-width="1.2" stroke-dasharray="6 3"/>
<text transform="translate(741.5,372) rotate(90)" style="font-size:9.5px;fill:#231f20">Noeud NUMA</text>
</g>
<g id="carte-mere">
<rect x="390" y="12.5" width="394" height="630.5" rx="10" fill="none" stroke="#a7a9ac" stroke-width="1.2" stroke-dasharray="13 6"/>
<text transform="translate(767.5,22) rotate(90)" style="font-size:11px;fill:#231f20">Carte mère</text>
</g>
</svg>
